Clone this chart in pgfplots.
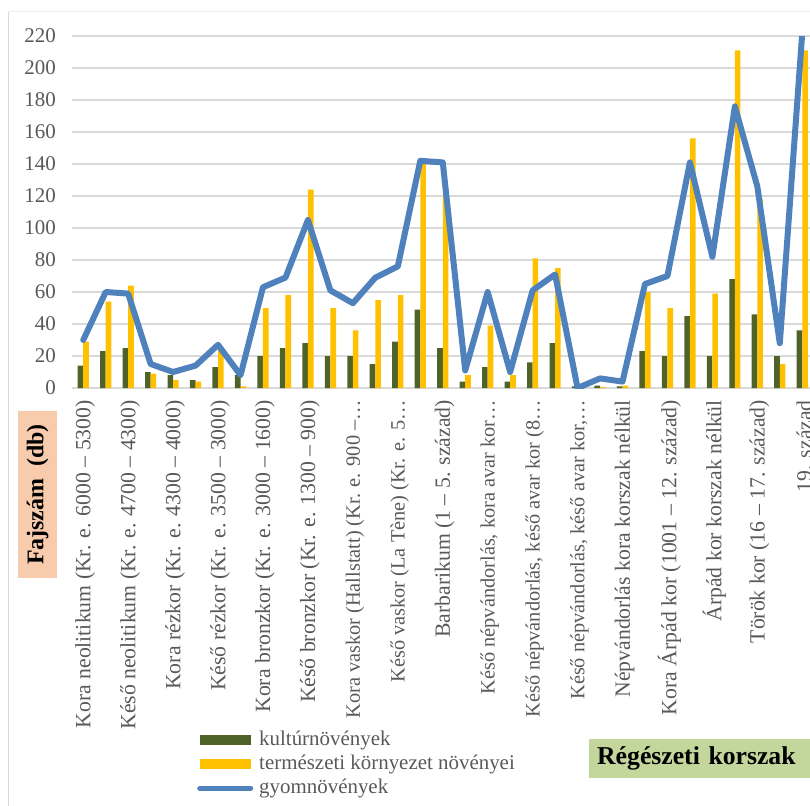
\documentclass[border=0pt]{standalone}
\usepackage{pgfplots}
\pgfplotsset{compat=1.18}
\usepackage{pgfplotstable}
\usepackage{fontspec}
\setmainfont{Liberation Serif}
\definecolor{kgreen}{HTML}{4F6228}
\definecolor{tyellow}{HTML}{FFC000}
\definecolor{gblue}{HTML}{4F81BD}
\definecolor{gridgray}{HTML}{D9D9D9}
\definecolor{txtgray}{HTML}{595959}
\definecolor{peach}{HTML}{F8CBAD}
\definecolor{lgreen}{HTML}{C3D69B}
\newcommand{\sm}[1]{{\fontsize{20.4}{25}\selectfont #1}}
\pgfplotstableread{
x k t g
0 14 29 30
1 23 54 60
2 25 64 59
3 10 9 15
4 8 5 10
5 5 4 14
6 13 24 27
7 8 1 8
8 20 50 63
9 25 58 69
10 28 124 105
11 20 50 61
12 20 36 53
13 15 55 69
14 29 58 76
15 49 141 142
16 25 121 141
17 4 8 11
18 13 39 60
19 4 8 10
20 16 81 61
21 28 75 71
22 1 0 0
23 1.5 0.5 6
24 1 1.5 4
25 23 60 65
26 20 50 70
27 45 156 141
28 20 59 82
29 68 211 176
30 46 118 126
31 20 15 28
32 36 211 222
}\datatable
\begin{document}
\begin{tikzpicture}
% chart frame
\draw[draw=gridgray, line width=1bp] (-63bp,-430bp) -- (-63bp,376bp);
\draw[draw=gridgray!50, line width=1bp] (-63bp,376bp) -- (760bp,376bp);
\begin{axis}[
  at={(0,0)}, anchor=south west,
  scale only axis, width=741.5bp, height=352bp,
  xmin=-0.5, xmax=32.5, ymin=0, ymax=220,
  ytick={0,20,...,220},
  ymajorgrids, grid style={draw=gridgray, line width=1.5bp},
  axis line style={draw=none},
  major tick length=0pt,
  /pgf/number format/assume math mode=true,
  tick label style={font=\fontsize{21}{25}\selectfont, text=txtgray},
  yticklabel style={anchor=east, inner sep=0pt, xshift=-16bp},
  xtick={0,2,...,32},
  xticklabels={
    {Kora neolitikum (Kr. e. 6000 – 5300)},
    {Késő neolitikum (Kr. e. 4700 – 4300)},
    {Kora rézkor (Kr. e. 4300 – 4000)},
    {Késő rézkor (Kr. e. 3500 – 3000)},
    {Kora bronzkor (Kr. e. 3000 – 1600)},
    {Késő bronzkor (Kr. e. 1300 – 900)},
    {\sm{Kora vaskor (Hallstatt) (Kr. e. 900 –…}},
    {\sm{Késő vaskor (La Tène) (Kr. e. 5…}},
    {Barbarikum (1 – 5. század)},
    {\sm{Késő népvándorlás, kora avar kor…}},
    {\sm{Késő népvándorlás, késő avar kor (8…}},
    {\sm{Késő népvándorlás, késő avar kor,…}},
    {Népvándorlás kora korszak nélkül},
    {Kora Árpád kor (1001 – 12. század)},
    {Árpád kor korszak nélkül},
    {Török kor (16 – 17. század)},
    {19. század}},
  xticklabel style={xshift=2bp, yshift=-12bp, rotate=90, anchor=east, inner sep=0pt,
    font=\fontsize{21.8}{25}\selectfont},
  ylabel={\textbf{Fajszám\hspace{0.5em}(db)}},
  ylabel style={at={(rel axis cs:-0.04653,-0.3026)}, anchor=center, rotate=0,
    fill=peach, text=black, font=\fontsize{24}{28}\selectfont,
    minimum width=167bp, minimum height=39bp, inner sep=0pt},
  xlabel={\textbf{Régészeti korszak}},
  xlabel style={at={(rel axis cs:0.6972,-1.0526)}, anchor=west,
    fill=lgreen, text=black, font=\fontsize{25.8}{30}\selectfont,
    minimum width=240bp, minimum height=39bp, inner xsep=8bp, inner ysep=0pt, align=left, text width=224bp},
  legend style={at={(rel axis cs:0.1686,-0.9716)}, anchor=north west,
    draw=none, fill=none, inner sep=0pt, row sep=4bp, column sep=6bp,
    font=\fontsize{21}{25}\selectfont, text=txtgray,
    nodes={inner sep=0pt, text height=15bp, text depth=5bp}},
  legend cell align=left,
]
\addplot[ybar, bar width=5.6bp, bar shift=-2.8bp, fill=kgreen, draw=none,
  legend image code/.code={\fill[kgreen] (0bp,-5bp) rectangle (51bp,5bp);}]
  table[x=x, y=k] {\datatable};
\addlegendentry{kultúrnövények}
\addplot[ybar, bar width=5.6bp, bar shift=2.8bp, fill=tyellow, draw=none,
  legend image code/.code={\fill[tyellow] (0bp,-5bp) rectangle (51bp,5bp);}]
  table[x=x, y=t] {\datatable};
\addlegendentry{természeti környezet növényei}
\addplot[gblue, line width=6bp, line join=round, line cap=round, mark=none,
  legend image code/.code={\draw[gblue, line width=5bp, line cap=round] (0bp,0bp) -- (51bp,0bp);}]
  table[x=x, y=g] {\datatable};
\addlegendentry{gyomnövények}
\end{axis}
\pgfresetboundingbox
\path[use as bounding box] (-72bp,-418bp) rectangle (738bp,388bp);
\end{tikzpicture}
\end{document}
